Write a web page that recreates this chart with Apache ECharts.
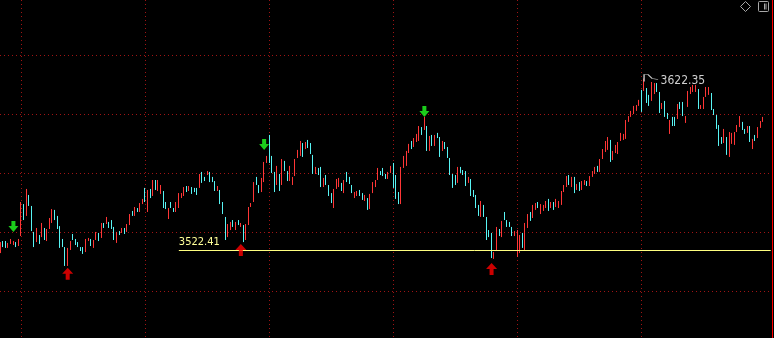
<!DOCTYPE html>
<html>
<head>
<meta charset="utf-8">
<script src="https://cdn.jsdelivr.net/npm/echarts@6/dist/echarts.min.js"></script>
<style>
html,body{margin:0;padding:0;background:#000;}
#chart{width:774px;height:338px;}
</style>
</head>
<body>
<div id="chart"></div>
<script>
// ---- data ----
const highs = [
3527.2,3527.8,3527.8,3526.7,3529.0,3527.8,3527.2,3529.0,3550.5,3549.3,
3558.1,3554.6,3548.2,3533.1,3535.4,3531.3,3538.3,3535.4,3534.8,3541.2,
3546.4,3545.9,3542.4,3536.5,3529.0,3524.3,3523.8,3527.8,3531.9,3529.0,
3527.2,3524.3,3524.3,3529.0,3529.6,3529.0,3528.4,3533.1,3532.5,3538.3,
3538.3,3541.8,3538.9,3540.0,3536.0,3533.1,3533.6,3535.4,3535.4,3537.7,
3543.5,3545.3,3547.6,3547.0,3549.9,3552.3,3558.7,3557.5,3558.1,3563.3,
3563.3,3563.3,3560.4,3556.9,3550.5,3547.0,3550.5,3547.0,3550.5,3555.7,
3555.7,3559.2,3559.8,3559.8,3559.2,3558.7,3558.7,3566.8,3568.0,3565.1,
3568.5,3568.0,3565.1,3562.7,3559.8,3557.5,3550.5,3541.8,3537.7,3538.9,
3540.0,3538.9,3540.0,3538.3,3537.1,3537.7,3547.6,3549.9,3562.1,3565.1,
3560.4,3564.5,3573.8,3577.3,3589.5,3577.3,3568.0,3571.5,3566.8,3575.5,
3574.4,3568.5,3571.5,3565.1,3575.5,3580.8,3586.0,3584.8,3585.4,3586.6,
3584.8,3577.9,3570.9,3570.3,3570.9,3564.5,3566.2,3560.4,3555.7,3558.1,
3563.9,3564.5,3561.6,3563.3,3568.0,3565.1,3560.4,3556.3,3556.9,3557.5,
3555.7,3554.6,3552.8,3555.2,3562.1,3563.3,3570.3,3568.5,3570.3,3566.8,
3568.0,3571.5,3573.2,3566.2,3556.3,3570.9,3577.3,3580.2,3584.3,3586.0,
3587.7,3590.1,3594.7,3594.1,3600.0,3594.7,3588.9,3589.5,3589.5,3590.7,
3588.3,3586.0,3585.4,3582.5,3576.1,3566.8,3566.2,3570.9,3570.9,3569.1,
3568.5,3565.1,3563.9,3557.5,3554.6,3548.8,3551.1,3548.8,3541.8,3534.2,
3532.5,3521.4,3536.0,3534.8,3539.5,3544.7,3540.0,3538.9,3536.0,3533.6,
3534.2,3531.3,3532.5,3538.3,3543.5,3544.7,3548.8,3549.9,3550.5,3549.3,
3548.8,3551.1,3552.3,3550.5,3550.5,3552.3,3551.1,3556.9,3560.4,3565.6,
3566.2,3565.1,3565.1,3561.0,3562.1,3562.7,3563.3,3562.7,3565.6,3568.5,
3570.9,3571.5,3575.5,3581.3,3586.0,3588.3,3586.6,3580.2,3583.7,3585.4,
3590.7,3590.1,3598.2,3600.5,3603.5,3606.4,3606.9,3609.9,3615.7,3622.35,
3616.8,3612.8,3620.3,3619.7,3619.7,3614.5,3608.1,3609.3,3602.3,3598.2,
3600.0,3600.0,3607.5,3608.7,3608.7,3600.5,3615.1,3617.4,3618.6,3618.6,
3616.2,3606.9,3611.6,3617.4,3617.4,3613.9,3604.6,3601.1,3595.3,3588.3,
3593.0,3588.3,3591.2,3590.7,3591.2,3595.3,3600.5,3597.1,3593.0,3594.7,
3594.7,3587.2,3589.5,3594.1,3597.6,3600.0
];
const lows = [
3520.8,3524.3,3523.8,3523.8,3526.1,3525.5,3524.3,3524.9,3530.7,3540.0,
3542.4,3548.2,3533.6,3524.3,3527.2,3526.1,3530.1,3528.4,3527.8,3534.8,
3538.3,3540.0,3534.8,3523.8,3524.3,3513.3,3513.3,3522.6,3528.4,3525.5,
3524.3,3522.0,3520.3,3521.4,3527.8,3524.9,3523.8,3528.4,3527.8,3529.6,
3535.4,3537.7,3535.4,3534.8,3528.4,3526.7,3531.3,3532.5,3531.9,3533.1,
3537.1,3542.4,3542.4,3544.7,3544.7,3549.3,3550.5,3544.7,3552.8,3554.0,
3557.5,3556.9,3555.2,3547.0,3546.4,3540.6,3547.0,3544.7,3544.7,3547.0,
3552.8,3554.0,3556.3,3556.9,3555.2,3556.3,3554.6,3558.7,3561.6,3562.7,
3566.2,3562.1,3562.1,3556.9,3556.9,3549.3,3543.5,3528.4,3530.1,3534.2,
3536.0,3534.2,3537.1,3536.0,3527.2,3528.4,3537.1,3547.6,3550.5,3560.4,
3555.7,3556.3,3562.1,3573.2,3573.2,3567.4,3556.3,3560.4,3556.9,3560.4,
3568.5,3562.7,3562.7,3560.4,3565.6,3576.1,3577.3,3576.7,3581.3,3581.9,
3578.4,3566.8,3566.8,3566.2,3559.2,3559.2,3560.4,3554.0,3549.9,3547.0,
3558.1,3559.2,3556.9,3555.7,3562.1,3561.0,3555.7,3552.8,3554.0,3554.0,
3551.7,3551.1,3545.9,3546.4,3555.7,3559.2,3563.3,3566.2,3565.6,3563.9,
3563.9,3567.4,3558.7,3552.3,3549.3,3549.3,3570.3,3571.5,3579.0,3581.3,
3582.5,3585.4,3586.0,3589.5,3592.4,3580.2,3580.2,3583.1,3583.1,3587.7,
3576.7,3580.2,3581.3,3576.1,3566.2,3558.7,3560.4,3561.6,3567.4,3566.2,
3559.8,3561.6,3554.0,3553.4,3547.0,3542.4,3541.8,3541.8,3528.4,3530.1,
3517.9,3517.4,3522.0,3530.7,3530.1,3540.0,3536.0,3536.0,3530.7,3530.7,
3518.5,3520.8,3523.8,3522.6,3535.4,3539.5,3541.2,3545.9,3547.0,3543.5,
3545.3,3547.0,3545.3,3547.0,3545.9,3547.6,3547.0,3548.8,3556.3,3559.2,
3560.4,3559.2,3555.7,3557.5,3556.9,3557.5,3560.4,3559.8,3559.8,3565.1,
3566.8,3568.0,3568.0,3575.5,3579.6,3580.8,3573.8,3574.9,3579.0,3578.4,
3586.0,3586.6,3587.2,3597.1,3600.0,3601.7,3603.5,3606.4,3602.9,3615.1,
3608.1,3606.4,3609.3,3613.3,3614.5,3602.3,3604.6,3600.0,3598.8,3590.1,
3594.7,3594.7,3598.8,3604.6,3600.5,3596.5,3605.8,3613.3,3614.5,3614.5,
3604.6,3604.6,3604.6,3611.6,3612.8,3604.0,3601.1,3593.0,3583.1,3584.3,
3584.8,3577.9,3576.7,3584.3,3583.7,3591.2,3594.1,3592.4,3590.1,3590.7,
3585.4,3581.3,3586.0,3587.7,3593.6,3597.1
];
// 1 = rising (red) bar, 0 = falling (cyan) bar
const upBars = [
1,0,0,1,1,1,0,1,1,0, 1,0,0,0,1,0,1,0,1,1, 1,0,0,0,0,0,1,1,0,0, 0,0,0,1,1,0,1,1,0,1,
0,1,0,0,0,1,0,1,0,1, 1,0,1,0,1,1,0,1,0,1, 0,1,1,0,0,1,0,0,1,1, 1,1,0,1,0,0,0,1,0,0,
1,0,0,0,1,0,0,0,1,1, 0,1,0,1,0,1,1,1,1,0, 0,1,1,1,0,0,0,1,0,1, 0,0,1,1,1,1,1,0,1,0,
0,0,1,0,0,1,0,0,0,1, 1,1,0,1,0,0,0,1,1,0, 0,1,0,1,1,1,1,0,0,0, 1,1,0,0,0,1,1,1,1,0,
1,1,1,0,1,0,1,0,1,0, 0,1,0,0,0,0,0,1,0,0, 0,1,0,0,0,0,1,0,0,0, 0,1,1,0,1,0,0,0,0,1,
1,1,0,1,1,0,1,1,0,1, 1,1,0,1,0,1,1,1,1,1, 0,1,0,1,0,1,1,0,1,1, 1,0,1,1,1,1,0,1,1,1,
1,1,1,1,1,1,1,1,0,1, 0,0,1,1,0,0,1,0,0,1, 0,0,1,0,0,1,1,1,1,1, 0,1,1,1,1,0,0,0,0,0,
1,0,1,1,1,1,1,0,0,1, 0,1,0,1,1,1
];
const slotCount = 299;               // bar slots on the time axis (last ones empty)
const categories = Array.from({length: slotCount}, (_, i) => String(i + 1));
const supportLevel = 3522.41;
const supportStartIdx = 69;
const supportEndIdx = 298;
const topIdx = 249;
const downArrowIdx = [5, 102, 164];
const downArrowVal = [3533.1, 3580.8, 3600.0];
const upArrowIdx = [26, 93, 190];
const upArrowVal = [3512.3, 3526.1, 3515.0];
const priceMin = 3471.4;
const priceMax = 3668.0;

// ---- build ----
const candles = highs.map((h, i) => upBars[i]
  ? [lows[i], h, lows[i], h]
  : [h, lows[i], lows[i], h]);

const RED = '#ff3636', CYAN = '#58f4f4', GRIDC = '#a01414';
const NARROW = '"Liberation Sans Narrow", "DejaVu Sans Condensed", "Arial Narrow", sans-serif';
const hidden = {axisLine:{show:false}, axisTick:{show:false}, axisLabel:{show:false}, splitLine:{show:false}};
const dotted = (t) => ({show: true, showMaxLine: false, lineStyle: {color: GRIDC, width: 1, type: t}});

const chart = echarts.init(document.getElementById('chart'), null, {renderer: 'canvas'});
chart.setOption({
  backgroundColor: '#000000',
  animation: false,
  toolbox: {
    show: true, right: 3, top: -1, padding: 0, itemSize: 10, itemGap: 3,
    iconStyle: {color: 'none', borderColor: '#a8a8a8', borderWidth: 1},
    feature: {
      myDiamond: {show: true, title: '', icon: 'path://M5,0 L10,5 L5,10 L0,5 Z', onclick: function(){}},
      myPanel: {show: true, title: '', icon: 'path://M1,0 L9,0 Q10,0 10,1 L10,9 Q10,10 9,10 L1,10 Q0,10 0,9 L0,1 Q0,0 1,0 Z M6,2 L6,8 M7.5,2 L7.5,8', onclick: function(){}}
    }
  },
  grid: [
    {left: -0.8, right: 2, top: 0, bottom: 0, outerBoundsMode: 'none', containLabel: false},   // price chart
    {left: 0, right: 2, top: -4, height: 354, outerBoundsMode: 'none', containLabel: false},    // horizontal dotted rules
    {left: -103, top: 0, bottom: 0, width: 806, outerBoundsMode: 'none', containLabel: false}  // vertical dotted rules
  ],
  xAxis: [
    Object.assign({type: 'category', gridIndex: 0, data: categories, boundaryGap: true}, hidden),
    Object.assign({type: 'value', gridIndex: 1, min: 0, max: 1}, hidden),
    Object.assign({type: 'value', gridIndex: 2, min: 0, max: 6.5, interval: 1}, hidden, {splitLine: dotted([1, 3])})
  ],
  yAxis: [
    {type: 'value', gridIndex: 0, position: 'right', min: priceMin, max: priceMax, scale: true,
     axisLine: {show: true, lineStyle: {color: '#ff0000', width: 1}},
     axisTick: {show: false}, axisLabel: {show: false}, splitLine: {show: false}},
    Object.assign({type: 'value', gridIndex: 1, min: 0, max: 6, interval: 1}, hidden, {splitLine: dotted([1, 3])}),
    Object.assign({type: 'value', gridIndex: 2, min: 0, max: 1}, hidden)
  ],
  series: [
    {
      type: 'candlestick', xAxisIndex: 0, yAxisIndex: 0, data: candles,
      barWidth: 1,
      itemStyle: {color: RED, color0: CYAN, borderColor: RED, borderColor0: CYAN, borderWidth: 1},
      emphasis: {disabled: true},
      markLine: {
        silent: true, symbol: ['none', 'none'], animation: false,
        lineStyle: {color: '#ffff80', width: 1, type: 'solid'},
        label: {show: true, position: 'insideStartTop', distance: [0, 3],
          formatter: () => supportLevel.toFixed(2),
          color: '#ffff99', fontSize: 11, fontFamily: NARROW},
        emphasis: {disabled: true},
        data: [[{coord: [supportStartIdx, supportLevel]}, {coord: [supportEndIdx, supportLevel]}]]
      },
      markPoint: {
        silent: true, animation: false,
        symbol: 'path://M0,7 L0,0 L4,0 L8,4 L14,5',
        symbolSize: [14, 7], symbolOffset: [7, -0.5], symbolKeepAspect: false,
        itemStyle: {color: 'none', borderColor: '#c8c8c8', borderWidth: 1},
        label: {show: true, position: 'right', distance: 0, offset: [-1, 3],
          formatter: p => Number(p.value).toFixed(2),
          color: '#cfcfcf', fontSize: 12, fontFamily: NARROW},
        emphasis: {disabled: true},
        data: [{coord: [topIdx, highs[topIdx]], value: highs[topIdx]}]
      }
    },
    {
      type: 'scatter', xAxisIndex: 0, yAxisIndex: 0, z: 5, silent: true,
      symbol: 'path://M3,0 L7,0 L7,5 L10,5 L5,11 L0,5 L3,5 Z',
      symbolSize: [10, 11], symbolOffset: [0, -5.5],
      itemStyle: {color: '#22ff22'},
      data: downArrowIdx.map((x, k) => [x, downArrowVal[k]])
    },
    {
      type: 'scatter', xAxisIndex: 0, yAxisIndex: 0, z: 5, silent: true,
      symbol: 'path://M5.5,0 L11,6 L7.5,6 L7.5,12 L3.5,12 L3.5,6 L0,6 Z',
      symbolSize: [11, 12], symbolOffset: [0, 6],
      itemStyle: {color: '#ff0000'},
      data: upArrowIdx.map((x, k) => [x, upArrowVal[k]])
    }
  ]
});
</script>
</body>
</html>
